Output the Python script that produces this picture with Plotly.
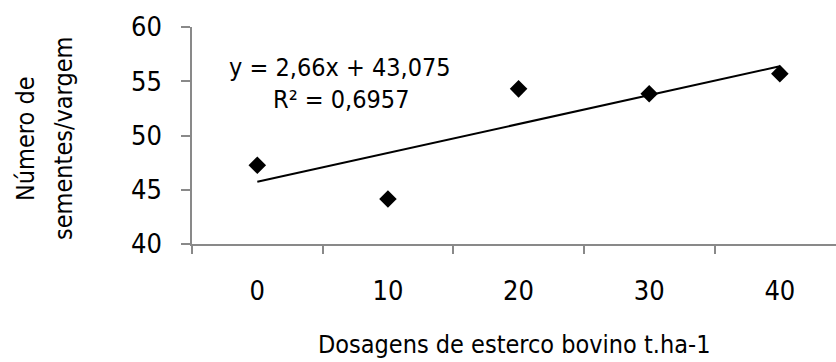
import plotly.graph_objects as go
import numpy as np

doses = ["0", "10", "20", "30", "40"]
sementes = [47.25, 44.15, 54.3, 53.85, 55.7]
slope = 2.66
intercept = 43.075
r2_text = "R² = 0,6957"
eq_text = "y = 2,66x + 43,075"
y_ticks = [40, 45, 50, 55, 60]
y_title_lines = ["Número de", "sementes/vargem"]
x_title = "Dosagens de esterco bovino t.ha-1"

FONT = "DejaVu Sans Condensed, Liberation Sans Narrow, Arial Narrow, sans-serif"
FS = 25
TFS = 27
AXC = "#898989"

W, H = 836, 362
L, R, T, B = 192, 0, 27, 118
pw, ph = W - L - R, H - T - B


def px(x):
    return (x - L) / pw


def py(y):
    return (H - B - y) / ph


idx = np.arange(1, len(doses) + 1)
trend_y = slope * idx + intercept

fig = go.Figure()
fig.add_trace(go.Scatter(x=doses, y=trend_y, mode="lines",
                         line=dict(color="black", width=2), showlegend=False, hoverinfo="skip"))
fig.add_trace(go.Scatter(x=doses, y=sementes, mode="markers",
                         marker=dict(symbol="diamond", size=13.5, color="black"), showlegend=False))

fig.update_layout(
    width=W, height=H,
    margin=dict(l=L, r=R, t=T, b=B, autoexpand=False),
    paper_bgcolor="white", plot_bgcolor="white",
    font=dict(family=FONT, size=FS, color="black"),
    xaxis=dict(type="category", range=[-0.5, 4.43], tickson="boundaries",
               showline=True, linecolor=AXC, linewidth=1.5,
               ticks="outside", ticklen=8, tickcolor=AXC, tickwidth=1.5,
               ticklabelstandoff=22,
               showgrid=False, zeroline=False,
               tickfont=dict(family=FONT, size=TFS)),
    yaxis=dict(range=[40, 60], tickvals=y_ticks,
               showline=True, linecolor=AXC, linewidth=1.5,
               ticks="outside", ticklen=9, tickcolor=AXC, tickwidth=1.5,
               ticklabelstandoff=14,
               showgrid=False, zeroline=False,
               tickfont=dict(family=FONT, size=TFS)),
)
fig.add_annotation(text=eq_text, x=px(340), y=py(67), xref="paper", yref="paper",
                   xanchor="center", yanchor="middle", showarrow=False,
                   font=dict(family=FONT, size=FS))
fig.add_annotation(text=r2_text, x=px(341), y=py(99), xref="paper", yref="paper",
                   xanchor="center", yanchor="middle", showarrow=False,
                   font=dict(family=FONT, size=FS))
for line, xc in zip(y_title_lines, [25, 63]):
    fig.add_annotation(text=line, textangle=-90,
                       x=px(xc), y=py(139), xref="paper", yref="paper",
                       xanchor="center", yanchor="middle", showarrow=False,
                       font=dict(family=FONT, size=FS))
fig.add_annotation(text=x_title,
                   x=px(514), y=py(344), xref="paper", yref="paper",
                   xanchor="center", yanchor="middle", showarrow=False,
                   font=dict(family=FONT, size=FS))

fig.write_html("out.html", config={"displayModeBar": False},
               post_script="document.body.style.margin='0';")
